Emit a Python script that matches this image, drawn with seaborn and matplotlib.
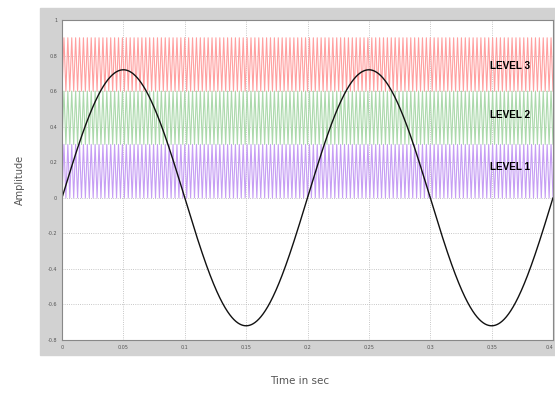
import numpy as np
import pandas as pd
import matplotlib
matplotlib.use("Agg")
import matplotlib.pyplot as plt
from matplotlib.patches import Rectangle
import seaborn as sns

# values
sine_amplitude = 0.72
sine_freq = 5            # Hz, period 0.2 s
carrier_freq = 315       # Hz
level_names = ["LEVEL 1", "LEVEL 2", "LEVEL 3"]
level_low = [0.0, 0.3, 0.6]
level_high = [0.3, 0.6, 0.9]
level_colors = ["#c69ef4", "#acd9ac", "#ffa0a0"]
x_ticks = [0, 0.05, 0.1, 0.15, 0.2, 0.25, 0.3, 0.35, 0.4]
y_ticks = [-0.8, -0.6, -0.4, -0.2, 0, 0.2, 0.4, 0.6, 0.8, 1.0]
x_labels = ["0", "0.05", "0.1", "0.15", "0.2", "0.25", "0.3", "0.35", "0.4"]
y_labels = ["-0.8", "-0.6", "-0.4", "-0.2", "0", "0.2", "0.4", "0.6", "0.8", "1"]

t = np.linspace(0, 0.4, 2000)
sine_df = pd.DataFrame({"t": t, "v": sine_amplitude * np.sin(2 * np.pi * sine_freq * t)})

# triangular carriers: vertices every half period
tc = np.arange(0, 0.4 + 1e-9, 1 / (2 * carrier_freq))
rows = []
for name, lo, hi in zip(level_names, level_low, level_high):
    v = np.where(np.arange(len(tc)) % 2 == 0, lo, hi)
    rows.append(pd.DataFrame({"t": tc, "v": v, "level": name}))
carrier_df = pd.concat(rows, ignore_index=True)

sns.set_style("white")
fig = plt.figure(figsize=(5.55, 3.99), dpi=100)
fig.patches.append(Rectangle((40 / 555, 44 / 399), 515 / 555, 347 / 399,
                             transform=fig.transFigure, color="#d2d2d2", zorder=-5))
ax = fig.add_axes([62 / 555, 59 / 399, 491 / 555, 320 / 399])
ax.set_zorder(2)
ax.set_facecolor("white")

sns.lineplot(data=carrier_df, x="t", y="v", hue="level", palette=level_colors,
             linewidth=0.8, legend=False, ax=ax, estimator=None, sort=False)
sns.lineplot(data=sine_df, x="t", y="v", color="#111111", linewidth=1.0, ax=ax)

ax.set_xlim(0, 0.4)
ax.set_ylim(-0.8, 1.0)
ax.set_xticks(x_ticks)
ax.set_xticklabels(x_labels)
ax.set_yticks(y_ticks)
ax.set_yticklabels(y_labels)
ax.get_xticklabels()[-1].set_ha("right")
ax.tick_params(direction="in", labelsize=3.5, colors="#555555", length=3, width=0.6)
ax.grid(True, linestyle=":", color="#b5b5b5", linewidth=0.6)
for s in ax.spines.values():
    s.set_color("#888888")
    s.set_linewidth(0.8)

# labels sit a little above the band centres
label_y = [0.175, 0.465, 0.742]
for name, y in zip(level_names, label_y):
    ax.text(0.365, y, name, ha="center", va="center",
            fontsize=7.2, fontweight="bold", color="black",
            family=["Liberation Sans Narrow", "Liberation Sans", "DejaVu Sans"])

ax.set_xlabel("")
ax.set_ylabel("")
fig.text(300 / 555, 1 - 381 / 399, "Time in sec", ha="center", va="center",
         fontsize=7.5, color="#555555")
fig.text(20 / 555, 1 - 180 / 399, "Amplitude", ha="center", va="center",
         fontsize=7, color="#555555", rotation=90)

fig.savefig("out.png", dpi=100)
